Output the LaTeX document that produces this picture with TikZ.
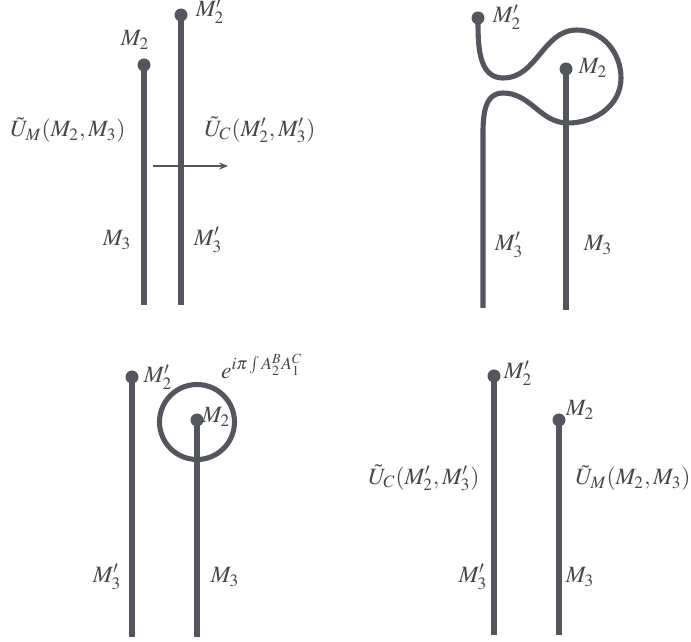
\documentclass[tikz,border=0pt]{standalone}
\usepackage{mathptmx}
\usepackage{xcolor}
\usepackage{tikz}
\usetikzlibrary{arrows.meta}

\definecolor{strandgray}{RGB}{83,87,93}
\definecolor{labelgray}{RGB}{70,70,70}

\begin{document}
\begin{tikzpicture}[
    x=0.02cm, y=0.02cm,
    strand/.style={
        draw=strandgray,
        line width=2.9pt
    },
    enddot/.style={
        fill=strandgray
    },
    lbl/.style={
        text=labelgray,
        inner sep=0pt,
        font=\fontsize{13.3}{15}\selectfont
    },
    arrow/.style={
        -{Stealth[length=5pt,width=4pt]},
        draw=strandgray,
        line width=0.6pt
    }
]

\useasboundingbox (0,0) rectangle (691,-642);

% ==================================================
% Top left: two parallel strands
% ==================================================

\coordinate (mA) at (144,-65);
\coordinate (mAb) at (144,-305);
\coordinate (cA) at (181,-15);
\coordinate (cAb) at (181,-305);

\draw[strand] (mA) -- (mAb);
\draw[strand] (cA) -- (cAb);
\fill[enddot] (mA) circle[radius=6.5];
\fill[enddot] (cA) circle[radius=6.5];

\coordinate (arrA) at (153,-166);
\coordinate (arrB) at (228,-166);
\draw[arrow] (arrA) -- (arrB);

\node[lbl] (mAtop) at (135,-40) {$M_2$};
\node[lbl] (cAtop) at (210,-11) {$M_2'$};
\node[lbl] (uMA) at (68,-130) {$\tilde{U}_M(M_2,M_3)$};
\node[lbl] (uCA) at (260,-130) {$\tilde{U}_C(M_2',M_3')$};
\node[lbl] (mAbot) at (117,-240) {$M_3$};
\node[lbl] (cAbot) at (208,-240) {$M_3'$};

% ==================================================
% Top right: the braided strand
% ==================================================

\coordinate (cB) at (478,-18);
\coordinate (cBb) at (483,-308);
\coordinate (mB) at (566,-69);
\coordinate (mBb) at (566,-310);

\draw[strand] (mB) -- (mBb);
\draw[strand] (cB) to[out=-90,in=180] (503,-78)
    to[out=0,in=180] (577,-30)
    to[out=0,in=90] (621,-78)
    to[out=-90,in=0] (568,-123)
    to[out=180,in=0] (503,-93)
    to[out=180,in=90] (483,-145)
    -- (cBb);
\fill[enddot] (cB) circle[radius=6.5];
\fill[enddot] (mB) circle[radius=6.5];

\node[lbl] (cBtop) at (507,-17) {$M_2'$};
\node[lbl] (mBtop) at (593,-68) {$M_2$};
\node[lbl] (cBbot) at (509,-245) {$M_3'$};
\node[lbl] (mBbot) at (598,-245) {$M_3$};

% ==================================================
% Bottom left: loop round the end point
% ==================================================

\coordinate (cC) at (132,-377);
\coordinate (cCb) at (132,-637);
\coordinate (mC) at (197,-420);
\coordinate (mCb) at (197,-637);

\draw[strand] (cC) -- (cCb);
\draw[strand] (mC) -- (mCb);
\draw[strand] (197,-422) circle[radius=37.5];
\fill[enddot] (cC) circle[radius=6.5];
\fill[enddot] (mC) circle[radius=6.5];

\node[lbl] (cCtop) at (158,-377) {$M_2'$};
\node[lbl] (phase) at (262,-366) {$e^{i\pi\int A_2^B A_1^C}$};
\node[lbl] (mCtop) at (216,-417) {$M_2$};
\node[lbl] (cCbot) at (107,-577) {$M_3'$};
\node[lbl] (mCbot) at (225,-577) {$M_3$};

% ==================================================
% Bottom right: strands exchanged
% ==================================================

\coordinate (cD) at (494,-376);
\coordinate (cDb) at (494,-635);
\coordinate (mD) at (559,-420);
\coordinate (mDb) at (559,-635);

\draw[strand] (cD) -- (cDb);
\draw[strand] (mD) -- (mDb);
\fill[enddot] (cD) circle[radius=6.5];
\fill[enddot] (mD) circle[radius=6.5];

\node[lbl] (cDtop) at (518,-373) {$M_2'$};
\node[lbl] (mDtop) at (580,-410) {$M_2$};
\node[lbl] (uCD) at (424,-478) {$\tilde{U}_C(M_2',M_3')$};
\node[lbl] (uMD) at (633,-478) {$\tilde{U}_M(M_2,M_3)$};
\node[lbl] (cDbot) at (473,-577) {$M_3'$};
\node[lbl] (mDbot) at (580,-577) {$M_3$};

\end{tikzpicture}
\end{document}
